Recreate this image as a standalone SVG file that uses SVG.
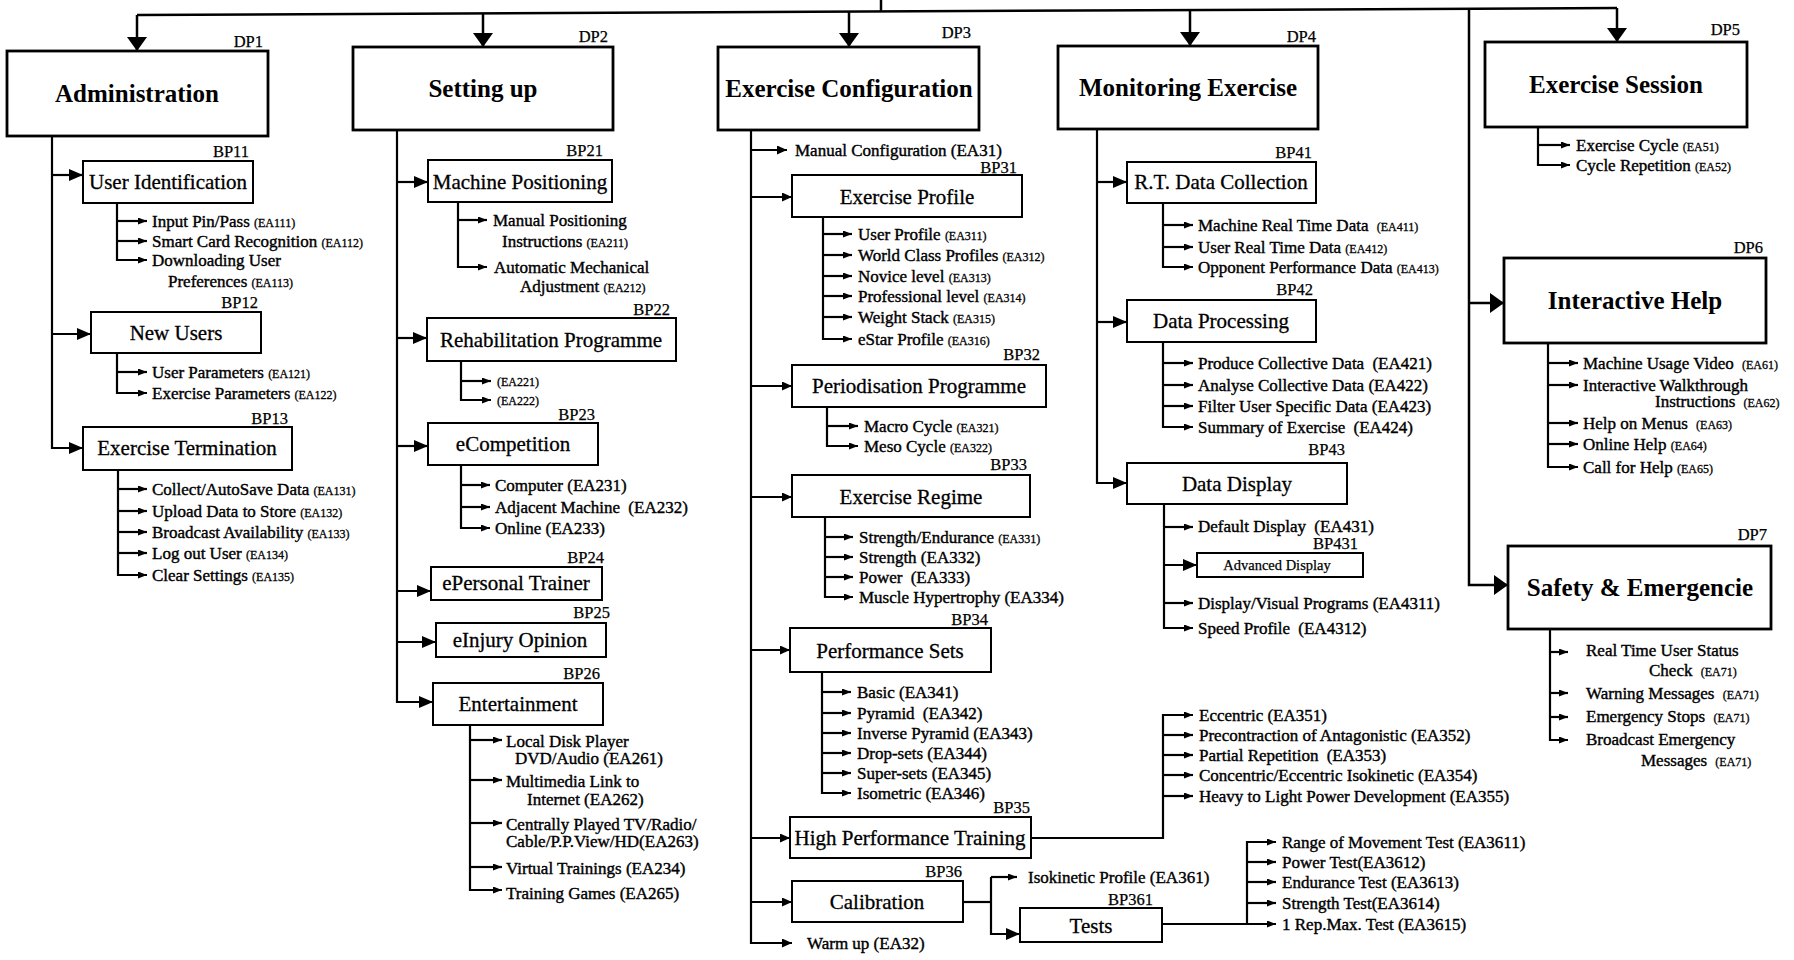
<svg xmlns="http://www.w3.org/2000/svg" width="1794" height="960" viewBox="0 0 1794 960">
<style>
  text { font-family: "Liberation Serif", "Times New Roman", serif; fill: #000; }
  .t1 { font-size: 25px; font-weight: bold; text-anchor: middle; }
  .t2 { font-size: 21px; text-anchor: middle; stroke: #000; stroke-width: 0.3; }
  .t3 { font-size: 14.5px; text-anchor: middle; stroke: #000; stroke-width: 0.25; }
  .lb { font-size: 16.5px; text-anchor: end; stroke: #000; stroke-width: 0.25; }
  .it { font-size: 17px; stroke: #000; stroke-width: 0.4; }
  .sm { font-size: 12px; stroke: #000; stroke-width: 0.3; }
  .dp { fill: #fff; stroke: #000; stroke-width: 2.8; }
  .bp { fill: #fff; stroke: #000; stroke-width: 2; }
  .ln { fill: none; stroke: #000; stroke-width: 2.2; }
  .top { fill: none; stroke: #000; stroke-width: 2.5; }
  .aB { marker-end: url(#ahBig); }
  .aM { marker-end: url(#ahMid); }
  .aN { marker-end: url(#ahNarrow); }
  .aS { marker-end: url(#ahSmall); }
</style>
<defs>
  <marker id="ahBig" markerUnits="userSpaceOnUse" viewBox="0 0 14 20" markerWidth="14" markerHeight="20" refX="14" refY="10" orient="auto"><path d="M0,0 L14,10 L0,20 z"/></marker>
  <marker id="ahMid" markerUnits="userSpaceOnUse" viewBox="0 0 14 12" markerWidth="14" markerHeight="12" refX="14" refY="6" orient="auto"><path d="M0,0 L14,6 L0,12 z"/></marker>
  <marker id="ahNarrow" markerUnits="userSpaceOnUse" viewBox="0 0 10 9" markerWidth="10" markerHeight="9" refX="10" refY="4.5" orient="auto"><path d="M0,0 L10,4.5 L0,9 z"/></marker>
  <marker id="ahSmall" markerUnits="userSpaceOnUse" viewBox="0 0 9 7" markerWidth="9" markerHeight="7" refX="9" refY="3.5" orient="auto"><path d="M0,0 L9,3.5 L0,7 z"/></marker>
</defs>
<rect x="0" y="0" width="1794" height="960" fill="#fff"/>

<g id="connectors">
  <!-- top distribution bus -->
  <path class="top" d="M881,0 V11.5"/>
  <path class="top" d="M137,15 L1617,8"/>
  <path class="top aB" d="M137,15 V51"/>
  <path class="top aB" d="M483,13.4 V47"/>
  <path class="top aB" d="M849,11.6 V47"/>
  <path class="top aB" d="M1190,10 V46"/>
  <path class="top aB" d="M1617,8 V42"/>
  <path class="top aB" d="M1469,8.7 V585 H1508"/>
  <path class="top aB" d="M1469,303 H1504"/>

  <!-- DP1 -->
  <path class="ln aM" d="M52,136 V448 H83"/>
  <path class="ln aM" d="M52,175 H83"/>
  <path class="ln aM" d="M52,334 H91"/>
  <path class="ln aS" d="M117,203 V260 H147"/>
  <path class="ln aS" d="M117,221 H147"/>
  <path class="ln aS" d="M117,241 H147"/>
  <path class="ln aS" d="M117,353 V393 H147"/>
  <path class="ln aS" d="M117,372 H147"/>
  <path class="ln aS" d="M118,470 V575 H147"/>
  <path class="ln aS" d="M118,489 H147"/>
  <path class="ln aS" d="M118,511 H147"/>
  <path class="ln aS" d="M118,532 H147"/>
  <path class="ln aS" d="M118,553 H147"/>

  <!-- DP2 -->
  <path class="ln aM" d="M397,130 V702 H433"/>
  <path class="ln aM" d="M397,182 H428"/>
  <path class="ln aM" d="M397,338 H427"/>
  <path class="ln aM" d="M397,446 H428"/>
  <path class="ln aM" d="M397,591 H431"/>
  <path class="ln aM" d="M397,642 H436"/>
  <path class="ln aS" d="M458,202 V267 H487"/>
  <path class="ln aS" d="M458,220 H487"/>
  <path class="ln aS" d="M461,361 V400 H491"/>
  <path class="ln aS" d="M461,381 H491"/>
  <path class="ln aS" d="M461,465 V528 H490"/>
  <path class="ln aS" d="M461,485 H490"/>
  <path class="ln aS" d="M461,507 H490"/>
  <path class="ln aS" d="M470,725 V890 H502"/>
  <path class="ln aS" d="M470,740 H502"/>
  <path class="ln aS" d="M470,780 H502"/>
  <path class="ln aS" d="M470,823 H502"/>
  <path class="ln aS" d="M470,867 H502"/>

  <!-- DP3 -->
  <path class="ln aN" d="M751,130 V943 H792"/>
  <path class="ln aN" d="M751,150 H787"/>
  <path class="ln aN" d="M751,197 H792"/>
  <path class="ln aN" d="M751,386 H792"/>
  <path class="ln aN" d="M751,497 H792"/>
  <path class="ln aN" d="M751,650 H790"/>
  <path class="ln aN" d="M751,838 H790"/>
  <path class="ln aN" d="M751,902 H792"/>
  <path class="ln aS" d="M823,217 V339 H852"/>
  <path class="ln aS" d="M823,234 H852"/>
  <path class="ln aS" d="M823,255 H852"/>
  <path class="ln aS" d="M823,276 H852"/>
  <path class="ln aS" d="M823,296 H852"/>
  <path class="ln aS" d="M823,317 H852"/>
  <path class="ln aS" d="M827,407 V446 H858"/>
  <path class="ln aS" d="M827,426 H858"/>
  <path class="ln aS" d="M825,517 V597 H853"/>
  <path class="ln aS" d="M825,537 H853"/>
  <path class="ln aS" d="M825,557 H853"/>
  <path class="ln aS" d="M825,577 H853"/>
  <path class="ln aS" d="M822,672 V793 H851"/>
  <path class="ln aS" d="M822,692 H851"/>
  <path class="ln aS" d="M822,713 H851"/>
  <path class="ln aS" d="M822,733 H851"/>
  <path class="ln aS" d="M822,753 H851"/>
  <path class="ln aS" d="M822,773 H851"/>
  <path class="ln aS" d="M1031,838 H1163 V715 H1193"/>
  <path class="ln aS" d="M1163,735 H1193"/>
  <path class="ln aS" d="M1163,755 H1193"/>
  <path class="ln aS" d="M1163,775 H1193"/>
  <path class="ln aS" d="M1163,796 H1193"/>
  <path class="ln" d="M963,902 H991"/>
  <path class="ln aM" d="M991,877 V934 H1020"/>
  <path class="ln aS" d="M991,877 H1017"/>
  <path class="ln aS" d="M1162,924 H1276"/>
  <path class="ln aS" d="M1247,924 V842 H1276"/>
  <path class="ln aS" d="M1247,862 H1276"/>
  <path class="ln aS" d="M1247,882 H1276"/>
  <path class="ln aS" d="M1247,903 H1276"/>

  <!-- DP4 -->
  <path class="ln aM" d="M1097,129 V483 H1127"/>
  <path class="ln aM" d="M1097,182 H1127"/>
  <path class="ln aM" d="M1097,322 H1127"/>
  <path class="ln aS" d="M1163,203 V267 H1193"/>
  <path class="ln aS" d="M1163,225 H1193"/>
  <path class="ln aS" d="M1163,247 H1193"/>
  <path class="ln aS" d="M1163,342 V427 H1193"/>
  <path class="ln aS" d="M1163,363 H1193"/>
  <path class="ln aS" d="M1163,385 H1193"/>
  <path class="ln aS" d="M1163,406 H1193"/>
  <path class="ln aS" d="M1164,504 V628 H1193"/>
  <path class="ln aS" d="M1164,527 H1193"/>
  <path class="ln aM" d="M1164,565 H1197"/>
  <path class="ln aS" d="M1164,603 H1193"/>

  <!-- DP5 / DP6 / DP7 -->
  <path class="ln aS" d="M1538,127 V165 H1570"/>
  <path class="ln aS" d="M1538,145 H1570"/>
  <path class="ln aS" d="M1548,343 V467 H1578"/>
  <path class="ln aS" d="M1548,363 H1578"/>
  <path class="ln aS" d="M1548,385 H1578"/>
  <path class="ln aS" d="M1548,423 H1578"/>
  <path class="ln aS" d="M1548,444 H1578"/>
  <path class="ln aS" d="M1550,629 V740 H1568"/>
  <path class="ln aS" d="M1550,652 H1568"/>
  <path class="ln aS" d="M1550,693 H1568"/>
  <path class="ln aS" d="M1550,717 H1568"/>
</g>

<!-- DP1 Administration -->
<g id="dp1"><rect class="dp" x="7" y="51" width="261" height="85"/><text class="lb" x="263" y="47">DP1</text><text class="t1" x="137" y="102">Administration</text></g>
<g id="bp11"><rect class="bp" x="83" y="161" width="170" height="42"/><text class="lb" x="249" y="157">BP11</text><text class="t2" x="168" y="189">User Identification</text></g>
<g id="ea111"><text class="it" x="152" y="227">Input Pin/Pass <tspan class="sm">(EA111)</tspan></text></g>
<g id="ea112"><text class="it" x="152" y="247">Smart Card Recognition <tspan class="sm">(EA112)</tspan></text></g>
<g id="ea113"><text class="it" x="152" y="266">Downloading User</text><text class="it" x="168" y="287">Preferences <tspan class="sm">(EA113)</tspan></text></g>
<g id="bp12"><rect class="bp" x="91" y="312" width="170" height="41"/><text class="lb" x="258" y="308">BP12</text><text class="t2" x="176" y="340">New Users</text></g>
<g id="ea121"><text class="it" x="152" y="378">User Parameters <tspan class="sm">(EA121)</tspan></text></g>
<g id="ea122"><text class="it" x="152" y="399">Exercise Parameters <tspan class="sm">(EA122)</tspan></text></g>
<g id="bp13"><rect class="bp" x="83" y="427" width="209" height="43"/><text class="lb" x="288" y="424">BP13</text><text class="t2" x="187" y="455">Exercise Termination</text></g>
<g id="ea131"><text class="it" x="152" y="495">Collect/AutoSave Data <tspan class="sm">(EA131)</tspan></text></g>
<g id="ea132"><text class="it" x="152" y="517">Upload Data to Store <tspan class="sm">(EA132)</tspan></text></g>
<g id="ea133"><text class="it" x="152" y="538">Broadcast Availability <tspan class="sm">(EA133)</tspan></text></g>
<g id="ea134"><text class="it" x="152" y="559">Log out User <tspan class="sm">(EA134)</tspan></text></g>
<g id="ea135"><text class="it" x="152" y="581">Clear Settings <tspan class="sm">(EA135)</tspan></text></g>

<!-- DP2 Setting up -->
<g id="dp2"><rect class="dp" x="353" y="47" width="260" height="83"/><text class="lb" x="608" y="42">DP2</text><text class="t1" x="483" y="97">Setting up</text></g>
<g id="bp21"><rect class="bp" x="428" y="160" width="184" height="42"/><text class="lb" x="603" y="156">BP21</text><text class="t2" x="520" y="189">Machine Positioning</text></g>
<g id="ea211"><text class="it" x="493" y="226">Manual Positioning</text><text class="it" x="502" y="247">Instructions <tspan class="sm">(EA211)</tspan></text></g>
<g id="ea212"><text class="it" x="494" y="273">Automatic Mechanical</text><text class="it" x="520" y="292">Adjustment <tspan class="sm">(EA212)</tspan></text></g>
<g id="bp22"><rect class="bp" x="427" y="318" width="249" height="43"/><text class="lb" x="670" y="315">BP22</text><text class="t2" x="551" y="347">Rehabilitation Programme</text></g>
<g id="ea221"><text class="sm" x="497" y="386">(EA221)</text></g>
<g id="ea222"><text class="sm" x="497" y="405">(EA222)</text></g>
<g id="bp23"><rect class="bp" x="428" y="423" width="170" height="42"/><text class="lb" x="595" y="420">BP23</text><text class="t2" x="513" y="451">eCompetition</text></g>
<g id="ea231"><text class="it" x="495" y="491">Computer (EA231)</text></g>
<g id="ea232"><text class="it" x="495" y="513">Adjacent Machine <tspan dx="4">(EA232)</tspan></text></g>
<g id="ea233"><text class="it" x="495" y="534">Online (EA233)</text></g>
<g id="bp24"><rect class="bp" x="431" y="567" width="171" height="33"/><text class="lb" x="604" y="563">BP24</text><text class="t2" x="516" y="590">ePersonal Trainer</text></g>
<g id="bp25"><rect class="bp" x="436" y="623" width="170" height="34"/><text class="lb" x="610" y="618">BP25</text><text class="t2" x="520" y="647">eInjury Opinion</text></g>
<g id="bp26"><rect class="bp" x="433" y="683" width="170" height="42"/><text class="lb" x="600" y="679">BP26</text><text class="t2" x="518" y="711">Entertainment</text></g>
<g id="ea261"><text class="it" x="506" y="747">Local Disk Player</text><text class="it" x="515" y="764">DVD/Audio (EA261)</text></g>
<g id="ea262"><text class="it" x="506" y="787">Multimedia Link to</text><text class="it" x="527" y="805">Internet (EA262)</text></g>
<g id="ea263"><text class="it" x="506" y="830">Centrally Played TV/Radio/</text><text class="it" x="506" y="847">Cable/P.P.View/HD(EA263)</text></g>
<g id="ea234"><text class="it" x="506" y="874">Virtual Trainings (EA234)</text></g>
<g id="ea265"><text class="it" x="506" y="899">Training Games (EA265)</text></g>

<!-- DP3 Exercise Configuration -->
<g id="dp3"><rect class="dp" x="718" y="47" width="261" height="83"/><text class="lb" x="971" y="38">DP3</text><text class="t1" x="849" y="97">Exercise Configuration</text></g>
<g id="ea31"><text class="it" x="795" y="156">Manual Configuration (EA31)</text></g>
<g id="bp31"><rect class="bp" x="792" y="175" width="230" height="42"/><text class="lb" x="1017" y="173">BP31</text><text class="t2" x="907" y="204">Exercise Profile</text></g>
<g id="ea311"><text class="it" x="858" y="240">User Profile <tspan class="sm">(EA311)</tspan></text></g>
<g id="ea312"><text class="it" x="858" y="261">World Class Profiles <tspan class="sm">(EA312)</tspan></text></g>
<g id="ea313"><text class="it" x="858" y="282">Novice level <tspan class="sm">(EA313)</tspan></text></g>
<g id="ea314"><text class="it" x="858" y="302">Professional level <tspan class="sm">(EA314)</tspan></text></g>
<g id="ea315"><text class="it" x="858" y="323">Weight Stack <tspan class="sm">(EA315)</tspan></text></g>
<g id="ea316"><text class="it" x="858" y="345">eStar Profile <tspan class="sm">(EA316)</tspan></text></g>
<g id="bp32"><rect class="bp" x="792" y="365" width="254" height="42"/><text class="lb" x="1040" y="360">BP32</text><text class="t2" x="919" y="393">Periodisation Programme</text></g>
<g id="ea321"><text class="it" x="864" y="432">Macro Cycle <tspan class="sm">(EA321)</tspan></text></g>
<g id="ea322"><text class="it" x="864" y="452">Meso Cycle <tspan class="sm">(EA322)</tspan></text></g>
<g id="bp33"><rect class="bp" x="792" y="475" width="238" height="42"/><text class="lb" x="1027" y="470">BP33</text><text class="t2" x="911" y="504">Exercise Regime</text></g>
<g id="ea331"><text class="it" x="859" y="543">Strength/Endurance <tspan class="sm">(EA331)</tspan></text></g>
<g id="ea332"><text class="it" x="859" y="563">Strength (EA332)</text></g>
<g id="ea333"><text class="it" x="859" y="583">Power <tspan dx="4">(EA333)</tspan></text></g>
<g id="ea334"><text class="it" x="859" y="603">Muscle Hypertrophy (EA334)</text></g>
<g id="bp34"><rect class="bp" x="790" y="628" width="201" height="44"/><text class="lb" x="988" y="625">BP34</text><text class="t2" x="890" y="658">Performance Sets</text></g>
<g id="ea341"><text class="it" x="857" y="698">Basic (EA341)</text></g>
<g id="ea342"><text class="it" x="857" y="719">Pyramid <tspan dx="4">(EA342)</tspan></text></g>
<g id="ea343"><text class="it" x="857" y="739">Inverse Pyramid (EA343)</text></g>
<g id="ea344"><text class="it" x="857" y="759">Drop-sets (EA344)</text></g>
<g id="ea345"><text class="it" x="857" y="779">Super-sets (EA345)</text></g>
<g id="ea346"><text class="it" x="857" y="799">Isometric (EA346)</text></g>
<g id="bp35"><rect class="bp" x="790" y="817" width="241" height="41"/><text class="lb" x="1030" y="813">BP35</text><text class="t2" x="910" y="845">High Performance Training</text></g>
<g id="ea351"><text class="it" x="1199" y="721">Eccentric (EA351)</text></g>
<g id="ea352"><text class="it" x="1199" y="741">Precontraction of Antagonistic (EA352)</text></g>
<g id="ea353"><text class="it" x="1199" y="761">Partial Repetition <tspan dx="4">(EA353)</tspan></text></g>
<g id="ea354"><text class="it" x="1199" y="781">Concentric/Eccentric Isokinetic (EA354)</text></g>
<g id="ea355"><text class="it" x="1199" y="802">Heavy to Light Power Development (EA355)</text></g>
<g id="bp36"><rect class="bp" x="792" y="881" width="171" height="41"/><text class="lb" x="962" y="877">BP36</text><text class="t2" x="877" y="909">Calibration</text></g>
<g id="ea361"><text class="it" x="1028" y="883">Isokinetic Profile (EA361)</text></g>
<g id="bp361"><rect class="bp" x="1020" y="908" width="142" height="34"/><text class="lb" x="1153" y="905">BP361</text><text class="t2" x="1091" y="933">Tests</text></g>
<g id="ea3611"><text class="it" x="1282" y="848">Range of Movement Test (EA3611)</text></g>
<g id="ea3612"><text class="it" x="1282" y="868">Power Test(EA3612)</text></g>
<g id="ea3613"><text class="it" x="1282" y="888">Endurance Test (EA3613)</text></g>
<g id="ea3614"><text class="it" x="1282" y="909">Strength Test(EA3614)</text></g>
<g id="ea3615"><text class="it" x="1282" y="930">1 Rep.Max. Test (EA3615)</text></g>
<g id="ea32"><text class="it" x="807" y="949">Warm up (EA32)</text></g>

<!-- DP4 Monitoring Exercise -->
<g id="dp4"><rect class="dp" x="1058" y="46" width="260" height="83"/><text class="lb" x="1316" y="42">DP4</text><text class="t1" x="1188" y="96">Monitoring Exercise</text></g>
<g id="bp41"><rect class="bp" x="1127" y="162" width="189" height="41"/><text class="lb" x="1312" y="158">BP41</text><text class="t2" x="1221" y="189">R.T. Data Collection</text></g>
<g id="ea411"><text class="it" x="1198" y="231">Machine Real Time Data <tspan class="sm" dx="4">(EA411)</tspan></text></g>
<g id="ea412"><text class="it" x="1198" y="253">User Real Time Data <tspan class="sm">(EA412)</tspan></text></g>
<g id="ea413"><text class="it" x="1198" y="273">Opponent Performance Data <tspan class="sm">(EA413)</tspan></text></g>
<g id="bp42"><rect class="bp" x="1127" y="300" width="189" height="42"/><text class="lb" x="1313" y="295">BP42</text><text class="t2" x="1221" y="328">Data Processing</text></g>
<g id="ea421"><text class="it" x="1198" y="369">Produce Collective Data <tspan dx="4">(EA421)</tspan></text></g>
<g id="ea422"><text class="it" x="1198" y="391">Analyse Collective Data (EA422)</text></g>
<g id="ea423"><text class="it" x="1198" y="412">Filter User Specific Data (EA423)</text></g>
<g id="ea424"><text class="it" x="1198" y="433">Summary of Exercise <tspan dx="4">(EA424)</tspan></text></g>
<g id="bp43"><rect class="bp" x="1127" y="463" width="220" height="41"/><text class="lb" x="1345" y="455">BP43</text><text class="t2" x="1237" y="491">Data Display</text></g>
<g id="ea431"><text class="it" x="1198" y="532">Default Display <tspan dx="4">(EA431)</tspan></text></g>
<g id="bp431"><rect class="bp" x="1197" y="553" width="166" height="24"/><text class="lb" x="1358" y="549">BP431</text><text class="t3" x="1277" y="570">Advanced Display</text></g>
<g id="ea4311"><text class="it" x="1198" y="609">Display/Visual Programs (EA4311)</text></g>
<g id="ea4312"><text class="it" x="1198" y="634">Speed Profile <tspan dx="4">(EA4312)</tspan></text></g>

<!-- DP5 Exercise Session -->
<g id="dp5"><rect class="dp" x="1485" y="42" width="262" height="85"/><text class="lb" x="1740" y="35">DP5</text><text class="t1" x="1616" y="93">Exercise Session</text></g>
<g id="ea51"><text class="it" x="1576" y="151">Exercise Cycle <tspan class="sm">(EA51)</tspan></text></g>
<g id="ea52"><text class="it" x="1576" y="171">Cycle Repetition <tspan class="sm">(EA52)</tspan></text></g>

<!-- DP6 Interactive Help -->
<g id="dp6"><rect class="dp" x="1504" y="258" width="262" height="85"/><text class="lb" x="1763" y="253">DP6</text><text class="t1" x="1635" y="309">Interactive Help</text></g>
<g id="ea61"><text class="it" x="1583" y="369">Machine Usage Video <tspan class="sm" dx="4">(EA61)</tspan></text></g>
<g id="ea62"><text class="it" x="1583" y="391">Interactive Walkthrough</text><text class="it" x="1655" y="407">Instructions <tspan class="sm" dx="4">(EA62)</tspan></text></g>
<g id="ea63"><text class="it" x="1583" y="429">Help on Menus <tspan class="sm" dx="4">(EA63)</tspan></text></g>
<g id="ea64"><text class="it" x="1583" y="450">Online Help <tspan class="sm">(EA64)</tspan></text></g>
<g id="ea65"><text class="it" x="1583" y="473">Call for Help <tspan class="sm">(EA65)</tspan></text></g>

<!-- DP7 Safety & Emergencie -->
<g id="dp7"><rect class="dp" x="1508" y="546" width="263" height="83"/><text class="lb" x="1767" y="540">DP7</text><text class="t1" x="1640" y="596">Safety &amp; Emergencie</text></g>
<g id="ea71a"><text class="it" x="1586" y="656">Real Time User Status</text><text class="it" x="1649" y="676">Check <tspan class="sm" dx="4">(EA71)</tspan></text></g>
<g id="ea71b"><text class="it" x="1586" y="699">Warning Messages <tspan class="sm" dx="4">(EA71)</tspan></text></g>
<g id="ea71c"><text class="it" x="1586" y="722">Emergency Stops <tspan class="sm" dx="4">(EA71)</tspan></text></g>
<g id="ea71d"><text class="it" x="1586" y="745">Broadcast Emergency</text><text class="it" x="1641" y="766">Messages <tspan class="sm" dx="4">(EA71)</tspan></text></g>
</svg>
